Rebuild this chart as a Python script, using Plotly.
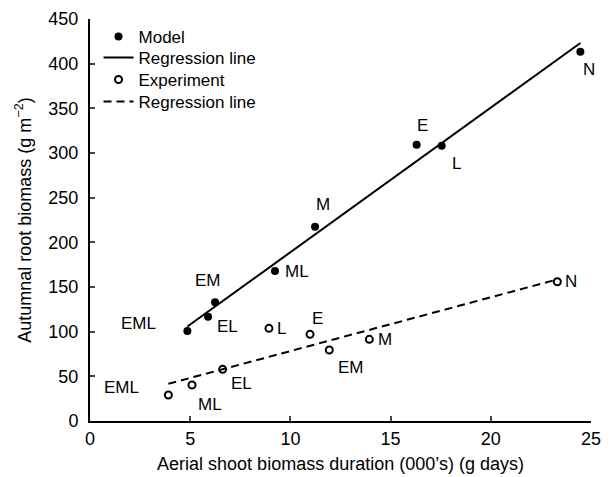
import numpy as np
import plotly.graph_objects as go

# ---- data ----
model_labels = ["EML", "EL", "EM", "ML", "M", "E", "L", "N"]
model_x = [4.86, 5.89, 6.24, 9.23, 11.23, 16.3, 17.55, 24.47]
model_y = [100.7, 116.8, 132.9, 167.9, 217.5, 309.3, 308.0, 413.4]

exp_labels = ["EML", "ML", "EL", "L", "E", "EM", "M", "N"]
exp_x = [3.91, 5.09, 6.62, 8.93, 10.98, 11.94, 13.94, 23.32]
exp_y = [29.1, 40.3, 57.8, 103.7, 97.0, 79.5, 91.4, 155.9]

x_ticks = [0, 5, 10, 15, 20, 25]
y_ticks = [0, 50, 100, 150, 200, 250, 300, 350, 400, 450]

# ---- label offsets (pixels: dx right, dy down) ----
model_off = {"EML": (-49, -8), "EL": (19, 10), "EM": (-7, -22), "ML": (22, 0),
             "M": (8, -22), "E": (6, -19), "L": (15, 18), "N": (9, 18)}
exp_off = {"EML": (-47, -8), "ML": (18, 19), "EL": (19, 14), "L": (13, 0),
           "E": (7, -16), "EM": (22, 18), "M": (16, 0), "N": (14, 0)}

FONT = "Arial, Liberation Sans, sans-serif"

def fit_line(xs, ys):
    k, b = np.polyfit(xs, ys, 1)
    xx = np.array([min(xs), max(xs)])
    return xx, k * xx + b

mlx, mly = fit_line(model_x, model_y)
elx, ely = fit_line(exp_x, exp_y)

fig = go.Figure()
fig.add_trace(go.Scatter(x=model_x, y=model_y, mode="markers", name="Model", legend="legend",
                         marker=dict(symbol="circle", size=8, color="black")))
fig.add_trace(go.Scatter(x=mlx, y=mly, mode="lines", name="Regression line", legend="legend2",
                         line=dict(color="black", width=2)))
fig.add_trace(go.Scatter(x=exp_x, y=exp_y, mode="markers", name="Experiment", legend="legend3",
                         marker=dict(symbol="circle-open", size=7, color="black",
                                     line=dict(width=2, color="black"))))
fig.add_trace(go.Scatter(x=elx, y=ely, mode="lines", name="Regression line", legend="legend4",
                         line=dict(color="black", width=2, dash="8px,5px")))

annotations = []
for lab, xv, yv in zip(model_labels, model_x, model_y):
    dx, dy = model_off[lab]
    annotations.append(dict(x=xv, y=yv, text=lab, showarrow=False, xshift=dx, yshift=-dy,
                            font=dict(size=17, color="black", family=FONT)))
for lab, xv, yv in zip(exp_labels, exp_x, exp_y):
    dx, dy = exp_off[lab]
    annotations.append(dict(x=xv, y=yv, text=lab, showarrow=False, xshift=dx, yshift=-dy,
                            font=dict(size=17, color="black", family=FONT)))

def leg(ypix):
    return dict(x=0.017, y=(421 - ypix) / 402, xanchor="left", yanchor="middle",
                bgcolor="rgba(0,0,0,0)", font=dict(size=17, color="black", family=FONT),
                itemwidth=30)

fig.update_layout(
    width=611, height=477,
    margin=dict(l=90, r=20, t=19, b=56),
    paper_bgcolor="white", plot_bgcolor="white",
    font=dict(family=FONT, size=17, color="black"),
    showlegend=True,
    legend=leg(37), legend2=leg(58), legend3=leg(80), legend4=leg(102),
    annotations=annotations,
    xaxis=dict(range=[0, 25], tickvals=x_ticks, ticks="inside", ticklen=5, tickwidth=1.5,
               showline=True, linecolor="black", linewidth=2, showgrid=False, zeroline=False,
               automargin=False,
               tickfont=dict(size=18), title=dict(text="Aerial shoot biomass duration (000’s) (g days)",
                                                 font=dict(size=18), standoff=10)),
    yaxis=dict(range=[0, 450], tickvals=y_ticks, ticks="inside", ticklen=5, tickwidth=1.5,
               showline=True, linecolor="black", linewidth=2, showgrid=False, zeroline=False,
               automargin=False, ticklabelstandoff=6,
               tickfont=dict(size=18), title=dict(text="Autumnal root biomass (g m<sup>−2</sup>)",
                                                 font=dict(size=18), standoff=12)),
)

fig.write_html("out.html")
